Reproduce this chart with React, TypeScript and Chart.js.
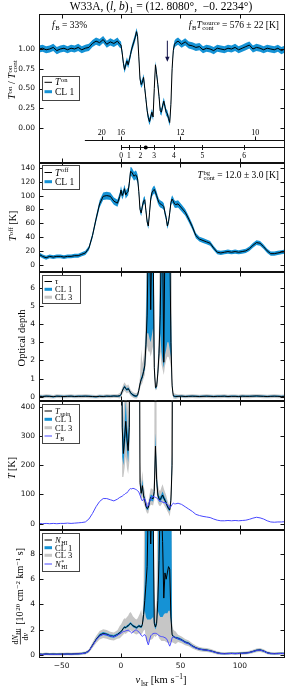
import React, { useEffect, useRef } from "react";
import { Chart, registerables } from "chart.js";

Chart.register(...registerables);

// ---------------- data ----------------
// velocity channels [km/s]: coarse outside the absorption window, 1 km/s inside it
const velocity = [
  -69, -66, -63, -60, -57, -54, -51, -48, -45, -42, -39, -36, -33, -30, -27, -24, -21, -18, -15, -12, -9, -6, -3,
  -1, 0, 1, 2, 3, 4, 5, 6, 7, 8, 9, 10, 11, 12, 13, 14, 15, 16, 17, 18, 19, 20, 21, 22, 23,
  24, 25, 26, 27, 28, 29, 30, 31, 32, 33, 34, 35, 36, 37, 38, 39, 40, 41, 42, 43, 44, 45, 46,
  48, 51, 54, 57, 60, 63, 66, 69, 72, 75, 78, 81, 84, 87, 90, 93, 96, 99, 102, 105, 108, 111, 114, 117, 120, 123, 126, 129, 132, 135, 138,
];
const LINE_START = 23; // index of -1 km/s (first channel of the window arrays)
const LINE_LEN = 48;
const velocityLine = velocity.slice(LINE_START, LINE_START + LINE_LEN);

const tOn = [
  1.0, 1.01, 0.99, 1.0, 1.02, 0.98, 1.0, 1.01, 0.99, 1.01, 1.0, 1.02, 0.99, 1.01, 1.02, 1.07, 1.1, 1.08, 1.12, 1.06, 1.09, 1.07, 1.1,
  1.06, 1.05, 0.95, 0.82, 0.74, 0.8, 0.85, 0.8, 0.86, 0.93, 1.0, 1.05, 1.1, 1.15, 1.22, 1.16, 0.9, 0.62, 0.55, 0.58, 0.64, 0.5, 0.36, 0.22, 0.13,
  0.08, 0.14, 0.2, 0.14, 0.5, 0.8, 0.68, 0.55, 0.4, 0.22, 0.2, 0.28, 0.34, 0.27, 0.2, 0.18, 0.12, 0.07, 0.3, 0.75, 0.98, 1.06, 1.08,
  1.1, 1.06, 1.09, 1.05, 1.04, 1.02, 1.03, 0.99, 1.01, 1.0, 0.98, 1.01, 1.0, 0.99, 1.01, 1.0, 1.02, 0.99, 1.01, 1.03, 1.05, 1.0, 1.02, 1.01, 0.99, 1.01, 1.0, 0.99, 1.01, 0.98, 1.0,
];
const tOnErr = 0.045;

const tOff = [
  15, 12, 10, 12, 11, 12, 12, 11, 12, 12, 13, 13, 15, 17, 24, 42, 66, 88, 99, 100, 99, 92, 89,
  99, 108, 100, 104, 110, 101, 104, 106, 118, 135, 134, 131, 128, 130, 129, 124, 106, 80, 75, 85, 92, 94, 78, 62, 56,
  75, 95, 104, 107, 109, 105, 100, 94, 90, 88, 87, 86, 84, 75, 68, 56, 62, 75, 90, 95, 92, 88, 87,
  88, 82, 76, 66, 55, 42, 37, 35, 33, 31, 24, 18, 17, 18, 19, 18, 19, 18, 19, 20, 23, 28, 32, 31, 26, 20, 16, 16, 17, 18, 19,
];
const tOffErrAbs = 2.5;
const tOffErrRel = 0.03;

const tau = [
  0.02, 0.01, 0.03, 0.02, 0.0, 0.03, 0.02, 0.01, 0.02, 0.03, 0.01, 0.02, 0.02, 0.03, 0.02, 0.01, 0.0, 0.02, 0.01, 0.03, 0.02, 0.04, 0.03,
  0.05, 0.12, 0.3, 0.45, 0.55, 0.45, 0.38, 0.45, 0.35, 0.22, 0.15, 0.1, 0.06, 0.04, 0.03, 0.1, 0.35, 0.7, 0.95, 1.1, 1.4, 1.7, 2.9, 4.5, 9,
  9, 4.8, 9, 9, 1.6, 0.5, 0.55, 1.3, 2.4, 4.5, 9, 9, 1.9, 9, 9, 9, 9, 9, 3.0, 0.6, 0.05, 0.02, 0.01,
  0.02, 0.03, 0.01, 0.02, 0.03, 0.02, 0.01, 0.02, 0.03, 0.02, 0.01, 0.02, 0.02, 0.03, 0.01, 0.02, 0.02, 0.01, 0.03, 0.02, 0.02, 0.03, 0.04, 0.03, 0.02, 0.01, 0.02, 0.03, 0.02, 0.01, 0.02,
];
// confidence limits inside the window (-1 .. 46 km/s)
const tauCl1Lo = [0.0, 0.07, 0.24, 0.38, 0.48, 0.38, 0.31, 0.38, 0.28, 0.16, 0.09, 0.04, 0.0, -0.02, -0.03, 0.04, 0.28, 0.6, 0.85, 0.98, 1.25, 1.5, 2.5, 3.5, 3.5, 3.2, 3.0, 3.4, 3.8, 1.4, 0.42, 0.47, 1.15, 2.1, 3.5, 2.5, 2.0, 1.6, 2.3, 2.6, 3.0, 3.0, 2.6, 2.2, 0.5, 0.0, -0.03, -0.04];
const tauCl1Hi = [0.1, 0.17, 0.36, 0.52, 0.63, 0.52, 0.45, 0.52, 0.42, 0.28, 0.21, 0.16, 0.12, 0.1, 0.09, 0.16, 0.42, 0.8, 1.1, 1.25, 1.6, 2.0, 3.6, 8, 20, 20, 20, 20, 20, 2.0, 0.58, 0.64, 1.5, 2.9, 7, 20, 20, 20, 20, 20, 20, 20, 20, 5, 0.75, 0.1, 0.07, 0.06];
const tauCl3Lo = [-0.1, -0.03, 0.12, 0.25, 0.33, 0.25, 0.18, 0.25, 0.16, 0.05, 0.0, -0.05, -0.08, -0.1, -0.11, -0.05, 0.15, 0.45, 0.65, 0.75, 1.0, 1.2, 2.0, 2.8, 2.5, 2.5, 2.2, 2.5, 2.8, 1.1, 0.35, 0.38, 0.95, 1.6, 2.5, 1.8, 1.5, 1.2, 1.7, 2.0, 2.2, 2.2, 2.0, 1.6, 0.4, -0.1, -0.12, -0.13];
const tauCl3Hi = [0.2, 0.3, 0.5, 0.68, 0.8, 0.68, 0.6, 0.68, 0.56, 0.4, 0.32, 0.26, 0.22, 0.2, 0.19, 0.28, 0.6, 1.1, 2.6, 1.8, 2.2, 2.8, 5, 20, 20, 20, 20, 20, 20, 2.8, 0.75, 0.8, 2.0, 4, 20, 20, 20, 20, 20, 20, 20, 20, 20, 20, 1.0, 0.2, 0.17, 0.16];
const tauCl1Err = 0.04;
const tauCl3Err = 0.1;

// spin temperature, only inside the window
const tSpin = [null, 1500, 330, 240, 290, 350, 290, 250, 330, 1500, null, null, null, null, null, null, 1500, 140, 104, 130, 95, 81, 60, 52, 55, 75, 90, 88, 85, 110, 265, 150, 98, 85, 82, 90, 98, 88, 80, 72, 60, 52, 47, 80, 200, 1500, null, null];
const tSpinCl1Lo = [null, 1000, 230, 200, 250, 300, 250, 210, 280, 1000, null, null, null, null, null, null, 1000, 125, 95, 115, 86, 73, 54, 46, 49, 67, 80, 78, 76, 98, 225, 130, 88, 76, 73, 80, 88, 80, 72, 64, 53, 46, 42, 70, 170, 1000, null, null];
const tSpinCl1Hi = [null, 3000, 480, 290, 340, 420, 340, 300, 400, 3000, null, null, null, null, null, null, 3000, 160, 115, 150, 106, 90, 67, 58, 62, 84, 100, 98, 95, 125, 310, 175, 110, 95, 92, 100, 110, 98, 89, 81, 67, 58, 53, 92, 250, 3000, null, null];
const tSpinCl3Lo = [null, 600, 160, 160, 190, 230, 190, 170, 210, 600, null, null, null, null, null, null, 600, 100, 78, 95, 70, 60, 44, 35, 36, 55, 66, 64, 62, 80, 180, 105, 72, 62, 60, 66, 72, 65, 58, 52, 43, 36, 25, 55, 140, 600, null, null];
const tSpinCl3Hi = [null, 5000, 700, 360, 440, 560, 440, 380, 520, 5000, null, null, null, null, null, null, 5000, 210, 140, 180, 130, 110, 80, 70, 75, 100, 120, 120, 115, 170, 2000, 240, 135, 115, 112, 125, 135, 120, 108, 98, 82, 70, 64, 130, 700, 5000, null, null];

const tB = [
  1, 0, 1, 0, 1, 0, 1, 1, 2, 1, 2, 3, 4, 6, 16, 35, 58, 76, 86, 86, 82, 78, 84,
  90, 92, 94, 98, 100, 104, 106, 110, 117, 120, 119, 121, 120, 118, 116, 113, 108, 98, 86, 78, 84, 86, 72, 58, 62,
  76, 86, 92, 94, 92, 90, 88, 84, 80, 78, 76, 74, 72, 72, 70, 66, 60, 54, 58, 66, 70, 68, 68,
  70, 66, 58, 50, 42, 32, 28, 25, 23, 21, 16, 12, 10, 10, 11, 10, 11, 10, 11, 12, 15, 19, 22, 20, 16, 10, 6, 5, 6, 6, 7,
];

const nHI = [
  0.05, 0.03, 0.06, 0.04, 0.05, 0.04, 0.05, 0.05, 0.06, 0.05, 0.07, 0.08, 0.1, 0.14, 0.3, 0.75, 1.2, 1.55, 1.68, 1.62, 1.5, 1.45, 1.6,
  1.75, 1.85, 1.95, 2.1, 2.2, 2.15, 2.25, 2.3, 2.4, 2.5, 2.4, 2.3, 2.25, 2.2, 2.15, 2.2, 2.3, 2.25, 2.2, 2.4, 3.2, 4.3, 5.6, 7.0, 12,
  12, 8.8, 12, 12, 2.5, 2.2, 2.5, 4.3, 7.5, 12, 12, 9.0, 4.5, 6.5, 6.0, 6.5, 7.0, 6.8, 3.0, 1.6, 1.45, 1.4, 1.35,
  1.3, 1.18, 1.0, 0.9, 0.7, 0.55, 0.45, 0.4, 0.37, 0.32, 0.24, 0.15, 0.1, 0.09, 0.1, 0.11, 0.1, 0.11, 0.12, 0.14, 0.18, 0.26, 0.35, 0.38, 0.3, 0.16, 0.1, 0.09, 0.1, 0.11, 0.1,
];
const nHIstar = [
  0.04, 0.02, 0.05, 0.03, 0.04, 0.03, 0.04, 0.05, 0.05, 0.04, 0.06, 0.07, 0.09, 0.13, 0.29, 0.72, 1.15, 1.5, 1.62, 1.58, 1.48, 1.42, 1.56,
  1.65, 1.72, 1.78, 1.85, 1.85, 1.9, 1.92, 1.96, 1.9, 1.8, 1.72, 1.8, 1.88, 1.95, 1.96, 1.9, 1.8, 1.7, 1.55, 1.45, 1.55, 1.6, 1.45, 1.05, 0.78,
  1.15, 1.5, 1.6, 1.68, 1.7, 1.7, 1.68, 1.6, 1.52, 1.47, 1.44, 1.43, 1.4, 1.35, 1.3, 1.15, 0.9, 0.68, 0.95, 1.35, 1.42, 1.4, 1.35,
  1.28, 1.16, 0.98, 0.88, 0.68, 0.53, 0.44, 0.39, 0.36, 0.31, 0.23, 0.14, 0.09, 0.08, 0.09, 0.1, 0.09, 0.1, 0.11, 0.13, 0.17, 0.25, 0.34, 0.37, 0.29, 0.15, 0.09, 0.08, 0.09, 0.1, 0.09,
];
const nHICl1Lo = [1.68, 1.78, 1.87, 2.02, 2.11, 2.06, 2.16, 2.2, 2.3, 2.4, 2.3, 2.2, 2.15, 2.1, 2.05, 2.1, 2.2, 2.15, 2.1, 2.25, 2.8, 3.5, 3.0, 2.8, 2.8, 2.8, 2.8, 2.9, 3.0, 2.3, 2.0, 2.3, 3.5, 3.2, 3.0, 3.0, 3.0, 3.2, 3.3, 3.3, 3.3, 3.5, 3.5, 2.6, 1.5, 1.38, 1.33, 1.28];
const nHICl1Hi = [1.82, 1.93, 2.03, 2.18, 2.29, 2.24, 2.34, 2.4, 2.5, 2.6, 2.5, 2.4, 2.35, 2.3, 2.25, 2.3, 2.4, 2.35, 2.3, 2.6, 3.8, 6.0, 20, 20, 20, 20, 20, 20, 20, 3.0, 2.4, 2.8, 5.5, 20, 20, 20, 20, 20, 20, 20, 20, 20, 20, 20, 1.7, 1.52, 1.47, 1.42];
const nHICl3Lo = [1.3, 1.4, 1.5, 1.6, 1.7, 1.65, 1.75, 1.8, 1.85, 1.95, 1.85, 1.75, 1.7, 1.65, 1.6, 1.65, 1.7, 1.65, 1.6, 1.7, 1.9, 2.0, 1.2, 1.0, 1.0, 1.1, 1.2, 1.2, 1.3, 1.5, 1.4, 1.5, 1.6, 1.3, 1.2, 1.1, 1.1, 1.1, 1.1, 1.0, 1.0, 0.9, 0.9, 1.0, 1.0, 0.95, 0.9, 0.85];
const nHICl3Hi = [2.3, 2.4, 2.6, 2.8, 2.9, 2.85, 3.0, 3.1, 3.3, 3.4, 3.25, 3.05, 2.95, 2.85, 2.8, 2.9, 3.1, 3.3, 3.6, 3.0, 5, 20, 20, 20, 20, 20, 20, 20, 20, 5, 3.5, 4.5, 20, 20, 20, 20, 20, 20, 20, 20, 20, 20, 20, 20, 2.5, 2.0, 1.9, 1.85];
const nHICl1Abs = 0.05, nHICl1Rel = 0.04;
const nHICl3Abs = 0.1, nHICl3Rel = 0.15;

// tick labels
const velTicks = [-50, 0, 50, 100];
const onTicks = [0, 0.25, 0.5, 0.75, 1.0];
const offTicks = [0, 20, 40, 60, 80, 100, 120, 140];
const tauTicks = [0, 1, 2, 3, 4, 5, 6];
const tempTicks = [0, 100, 200, 300, 400];
const colTicks = [0, 2, 4, 6, 8];

// kinematic distance scales [kpc] and their velocities
const farDistLabels = ["20", "16", "12", "10"];
const farDistVel = [-16.3, 0, 50, 113];
const nearDistLabels = ["0", "1", "2", "3", "4", "5", "6"];
const nearDistVel = [0, 6.7, 16.3, 27.8, 44.4, 68.5, 103.5];
const sourceVel = 20.8;
const arrowVel = 39.0;

// ---------------- style ----------------
const PAGE_W = 287, PAGE_H = 688;
const AX_L = 39, AX_R = 285;
const V_MIN = -69, V_MAX = 138;
const SERIF = "'Liberation Serif', 'DejaVu Serif', serif";
const SANS = "'DejaVu Sans', sans-serif";
const BLUE = "#1592d5";
const GRAY = "#c6c6c6";
const LINE_BLUE = "#4848ff";
const INK = "#000";

type Seg = { t?: string; it?: boolean; sup?: string; sub?: string; frac?: [Seg[], Seg[]] };
const SCRIPT = 0.7;
const fontOf = (size: number, it = false) => `${it ? "italic " : ""}${size}px ${SERIF}`;

function segWidth(ctx: CanvasRenderingContext2D, s: Seg, size: number): number {
  if (s.frac) {
    const fs = size * 0.8;
    return Math.max(segsWidth(ctx, s.frac[0], fs), segsWidth(ctx, s.frac[1], fs)) + size * 0.3;
  }
  ctx.font = fontOf(size, s.it);
  const base = s.t ? ctx.measureText(s.t).width : 0;
  ctx.font = fontOf(size * SCRIPT);
  const sw = Math.max(s.sup ? ctx.measureText(s.sup).width : 0, s.sub ? ctx.measureText(s.sub).width : 0);
  return base + (sw ? sw + size * 0.06 : 0);
}
function segsWidth(ctx: CanvasRenderingContext2D, segs: Seg[], size: number) {
  return segs.reduce((w, s) => w + segWidth(ctx, s, size), 0);
}
function drawSegs(ctx: CanvasRenderingContext2D, segs: Seg[], x: number, y: number, size: number) {
  for (const s of segs) {
    if (s.frac) {
      const fs = size * 0.8;
      const a = segsWidth(ctx, s.frac[0], fs), b = segsWidth(ctx, s.frac[1], fs);
      const w = Math.max(a, b), pad = size * 0.15, mid = y - size * 0.3;
      drawSegs(ctx, s.frac[0], x + pad + (w - a) / 2, mid - size * 0.2, fs);
      drawSegs(ctx, s.frac[1], x + pad + (w - b) / 2, mid + size * 0.72, fs);
      ctx.fillRect(x + pad, mid - 0.35, w, 0.7);
      x += w + 2 * pad;
      continue;
    }
    ctx.font = fontOf(size, s.it);
    if (s.t) {
      ctx.fillText(s.t, x, y);
      x += ctx.measureText(s.t).width;
    }
    if (s.sup || s.sub) {
      const ss = size * SCRIPT;
      ctx.font = fontOf(ss);
      const xs = x + size * 0.06;
      let sw = 0;
      if (s.sup) { ctx.fillText(s.sup, xs, y - size * 0.38); sw = ctx.measureText(s.sup).width; }
      if (s.sub) { ctx.fillText(s.sub, xs, y + size * 0.2); sw = Math.max(sw, ctx.measureText(s.sub).width); }
      x = xs + sw;
    }
  }
}
function rich(ctx: CanvasRenderingContext2D, segs: Seg[], x: number, y: number, size: number,
  align: "left" | "center" | "right" = "left", rotate = false, color = INK) {
  ctx.save();
  ctx.fillStyle = color;
  ctx.textAlign = "left";
  ctx.textBaseline = "alphabetic";
  const w = segsWidth(ctx, segs, size);
  ctx.translate(x, y);
  if (rotate) ctx.rotate(-Math.PI / 2);
  const x0 = align === "left" ? 0 : align === "center" ? -w / 2 : -w;
  drawSegs(ctx, segs, x0, size * 0.33, size);
  ctx.restore();
}

type LegendRow = { y: number; segs: Seg[]; color: string; width: number };
function legend(ctx: CanvasRenderingContext2D, box: { x: number; y: number; w: number; h: number }, rows: LegendRow[], size: number) {
  ctx.save();
  ctx.fillStyle = "#fff";
  ctx.fillRect(box.x, box.y, box.w, box.h);
  ctx.strokeStyle = "#444";
  ctx.lineWidth = 1;
  ctx.strokeRect(box.x + 0.5, box.y + 0.5, box.w, box.h);
  for (const r of rows) {
    ctx.strokeStyle = r.color;
    ctx.lineWidth = r.width;
    ctx.beginPath();
    ctx.moveTo(box.x + 2.5, r.y);
    ctx.lineTo(box.x + 10, r.y);
    ctx.stroke();
    rich(ctx, r.segs, box.x + 13, r.y, size, "left");
  }
  ctx.restore();
}

function frame(chart: any, yTicks: number[]) {
  const { ctx, chartArea: a, scales } = chart;
  ctx.save();
  ctx.strokeStyle = "#111";
  ctx.lineWidth = 1;
  const L = Math.round(a.left) + 0.5, R = Math.round(a.right) - 0.5;
  const T = Math.round(a.top) + 0.5, B = Math.round(a.bottom) - 0.5;
  ctx.strokeRect(L, T, R - L, B - T);
  ctx.beginPath();
  for (const v of yTicks) {
    const y = Math.round(scales.y.getPixelForValue(v)) + 0.5;
    ctx.moveTo(L, y); ctx.lineTo(L + 4, y);
    ctx.moveTo(R, y); ctx.lineTo(R - 4, y);
  }
  for (const v of velTicks) {
    const x = Math.round(scales.x.getPixelForValue(v)) + 0.5;
    ctx.moveTo(x, T); ctx.lineTo(x, T + 4);
    ctx.moveTo(x, B); ctx.lineTo(x, B - 4);
  }
  ctx.stroke();
  ctx.restore();
}

// ---------------- dataset helpers ----------------
const pts = (xs: number[], ys: (number | null)[]) => xs.map((x, i) => ({ x, y: ys[i] }));

function bounds(center: number[], winLo: number[] | null, winHi: number[] | null, abs: number, rel: number) {
  const pick = (arr: number[] | null, i: number) => {
    const j = i - LINE_START;
    return arr && j >= 0 && j < arr.length ? arr[j] : undefined;
  };
  const lo = center.map((c, i) => pick(winLo, i) ?? c - (abs + rel * Math.abs(c)));
  const hi = center.map((c, i) => pick(winHi, i) ?? c + (abs + rel * Math.abs(c)));
  return [lo, hi];
}
function bandSets(xs: number[], lo: (number | null)[], hi: (number | null)[], color: string, order: number) {
  const base = { pointRadius: 0, borderWidth: 0, borderColor: "rgba(0,0,0,0)", tension: 0, order, spanGaps: false };
  return [
    { ...base, data: pts(xs, lo), fill: false },
    { ...base, data: pts(xs, hi), fill: "-1", backgroundColor: color },
  ];
}
function lineSet(xs: number[], ys: (number | null)[], color: string, width: number, order: number) {
  return { data: pts(xs, ys), borderColor: color, borderWidth: width, pointRadius: 0, fill: false, tension: 0, order, spanGaps: false };
}
const minus = (v: number) => (v < 0 ? "\u2212" + Math.abs(v) : String(v));

// ---------------- panels ----------------
type PanelSpec = {
  key: string; top: number; bottom: number; yMin: number; yMax: number; yTicks: number[];
  fmt: (v: number) => string; showX?: boolean; datasets: () => any[]; draw: (ctx: CanvasRenderingContext2D, chart: any) => void;
};

const panels: PanelSpec[] = [
  {
    key: "on", top: 14, bottom: 163, yMin: -0.443, yMax: 1.443, yTicks: onTicks, fmt: (v) => v.toFixed(2),
    datasets: () => {
      const [lo, hi] = bounds(tOn, null, null, tOnErr, 0);
      return [...bandSets(velocity, lo, hi, BLUE, 5), lineSet(velocity, tOn, INK, 1, 3)];
    },
    draw: (ctx, chart) => {
      const xs = chart.scales.x, ys = chart.scales.y;
      rich(ctx, [{ t: "W33A, (" }, { t: "l", it: true }, { t: ", " }, { t: "b", it: true }, { t: ")", sub: "1" },
        { t: " = (12. 8080\u00b0,  \u22120. 2234\u00b0)" }], 161, 6.5, 11.5, "center");
      rich(ctx, [{ t: "f", it: true, sub: "B" }, { t: " = 33%" }], 52, 25, 9.5, "left");
      rich(ctx, [{ t: "f", it: true, sub: "B" }, { t: "T", it: true, sup: "source", sub: "cont" }, { t: " = 576 \u00b1 22 [K]" }], 279, 25, 9.5, "right");
      // arrow
      const ax = xs.getPixelForValue(arrowVel);
      const ay1 = ys.getPixelForValue(1.105), ay2 = ys.getPixelForValue(0.84);
      ctx.save();
      ctx.strokeStyle = "#14144a"; ctx.fillStyle = "#14144a"; ctx.lineWidth = 1;
      ctx.beginPath(); ctx.moveTo(ax, ay1); ctx.lineTo(ax, ay2 - 4); ctx.stroke();
      ctx.beginPath(); ctx.moveTo(ax - 2.2, ay2 - 5); ctx.lineTo(ax + 2.2, ay2 - 5); ctx.lineTo(ax, ay2); ctx.closePath(); ctx.fill();
      // distance axes
      ctx.strokeStyle = "#111"; ctx.fillStyle = INK;
      const farY = Math.round(ys.getPixelForValue(-0.155)) + 0.5;
      const nearY = Math.round(ys.getPixelForValue(-0.245)) + 0.5;
      ctx.beginPath();
      ctx.moveTo(xs.getPixelForValue(-30.4), farY); ctx.lineTo(chart.chartArea.right, farY);
      farDistVel.forEach((v) => { const x = Math.round(xs.getPixelForValue(v)) + 0.5; ctx.moveTo(x, farY); ctx.lineTo(x, farY - 4); });
      ctx.moveTo(xs.getPixelForValue(0), nearY); ctx.lineTo(chart.chartArea.right, nearY);
      nearDistVel.forEach((v) => { const x = Math.round(xs.getPixelForValue(v)) + 0.5; ctx.moveTo(x, nearY - 2.5); ctx.lineTo(x, nearY + 2.5); });
      ctx.stroke();
      ctx.beginPath(); ctx.arc(xs.getPixelForValue(sourceVel), nearY, 2, 0, Math.PI * 2); ctx.fill();
      ctx.restore();
      farDistLabels.forEach((l, i) => rich(ctx, [{ t: l }], xs.getPixelForValue(farDistVel[i]), farY - 8.5, 8, "center"));
      nearDistLabels.forEach((l, i) => rich(ctx, [{ t: l }], xs.getPixelForValue(nearDistVel[i]), nearY + 7.7, 7.5, "center"));
      legend(ctx, { x: 42, y: 76, w: 37, h: 24 }, [
        { y: 82.3, segs: [{ t: "T", it: true, sup: "on" }], color: INK, width: 1 },
        { y: 91.7, segs: [{ t: "CL 1" }], color: BLUE, width: 3 },
      ], 9.5);
      rich(ctx, [{ t: "T", it: true, sup: "on" }, { t: " / " }, { t: "T", it: true, sup: "on", sub: "cont" }], 12, 80, 10, "center", true);
    },
  },
  {
    key: "off", top: 163, bottom: 272, yMin: -10.6, yMax: 147.2, yTicks: offTicks, fmt: (v) => String(v),
    datasets: () => {
      const [lo, hi] = bounds(tOff, null, null, tOffErrAbs, tOffErrRel);
      return [...bandSets(velocity, lo, hi, BLUE, 5), lineSet(velocity, tOff, INK, 1, 3)];
    },
    draw: (ctx) => {
      rich(ctx, [{ t: "T", it: true, sup: "bg", sub: "cont" }, { t: " = 12.0 \u00b1 3.0 [K]" }], 279, 175, 9.5, "right");
      legend(ctx, { x: 42, y: 165, w: 37, h: 24 }, [
        { y: 172.5, segs: [{ t: "T", it: true, sup: "off" }], color: INK, width: 1 },
        { y: 181.7, segs: [{ t: "CL 1" }], color: BLUE, width: 3 },
      ], 9.5);
      rich(ctx, [{ t: "T", it: true, sup: "off" }, { t: " [K]" }], 13, 226, 10, "center", true);
    },
  },
  {
    key: "tau", top: 272, bottom: 400.5, yMin: -0.21, yMax: 6.88, yTicks: tauTicks, fmt: (v) => String(v),
    datasets: () => {
      const [l3, h3] = bounds(tau, tauCl3Lo, tauCl3Hi, tauCl3Err, 0);
      const [l1, h1] = bounds(tau, tauCl1Lo, tauCl1Hi, tauCl1Err, 0);
      return [...bandSets(velocity, l3, h3, GRAY, 7), ...bandSets(velocity, l1, h1, BLUE, 5), lineSet(velocity, tau, INK, 1, 3)];
    },
    draw: (ctx) => {
      legend(ctx, { x: 42, y: 275, w: 38, h: 28 }, [
        { y: 281.5, segs: [{ t: "\u03c4", it: true }], color: INK, width: 1 },
        { y: 289.3, segs: [{ t: "CL 1" }], color: BLUE, width: 3 },
        { y: 297.2, segs: [{ t: "CL 3" }], color: GRAY, width: 3 },
      ], 8.5);
      rich(ctx, [{ t: "Optical depth" }], 21.5, 338, 10.5, "center", true);
    },
  },
  {
    key: "spin", top: 400.5, bottom: 530, yMin: -21.5, yMax: 421.2, yTicks: tempTicks, fmt: (v) => String(v),
    datasets: () => [
      ...bandSets(velocityLine, tSpinCl3Lo, tSpinCl3Hi, GRAY, 7),
      ...bandSets(velocityLine, tSpinCl1Lo, tSpinCl1Hi, BLUE, 5),
      lineSet(velocityLine, tSpin, INK, 1, 3),
      lineSet(velocity, tB, LINE_BLUE, 1, 1),
    ],
    draw: (ctx) => {
      legend(ctx, { x: 42, y: 404, w: 37, h: 39 }, [
        { y: 411, segs: [{ t: "T", it: true, sub: "spin" }], color: INK, width: 1 },
        { y: 419.3, segs: [{ t: "CL 1" }], color: BLUE, width: 3 },
        { y: 427.7, segs: [{ t: "CL 3" }], color: GRAY, width: 3 },
        { y: 436, segs: [{ t: "T", it: true, sub: "B" }], color: LINE_BLUE, width: 1 },
      ], 8.5);
      rich(ctx, [{ t: "T", it: true }, { t: " [K]" }], 12, 468, 10, "center", true);
    },
  },
  {
    key: "col", top: 530, bottom: 658, yMin: -0.26, yMax: 9.91, yTicks: colTicks, fmt: (v) => String(v), showX: true,
    datasets: () => {
      const [l3, h3] = bounds(nHI, nHICl3Lo, nHICl3Hi, nHICl3Abs, nHICl3Rel);
      const [l1, h1] = bounds(nHI, nHICl1Lo, nHICl1Hi, nHICl1Abs, nHICl1Rel);
      return [...bandSets(velocity, l3, h3, GRAY, 7), ...bandSets(velocity, l1, h1, BLUE, 5),
        lineSet(velocity, nHI, INK, 1, 3), lineSet(velocity, nHIstar, LINE_BLUE, 1, 1)];
    },
    draw: (ctx) => {
      legend(ctx, { x: 42, y: 533, w: 37, h: 38 }, [
        { y: 540, segs: [{ t: "N", it: true, sub: "HI" }], color: INK, width: 1 },
        { y: 547.7, segs: [{ t: "CL 1" }], color: BLUE, width: 3 },
        { y: 555.3, segs: [{ t: "CL 3" }], color: GRAY, width: 3 },
        { y: 564, segs: [{ t: "N", it: true, sup: "*", sub: "HI" }], color: LINE_BLUE, width: 1 },
      ], 8.5);
      rich(ctx, [
        { frac: [[{ t: "d" }, { t: "N", it: true, sub: "HI" }], [{ t: "d" }, { t: "v", it: true }]] },
        { t: " [10", sup: "20" }, { t: " cm", sup: "\u22122" }, { t: " km", sup: "\u22121" }, { t: " s]" },
      ], 20, 597, 10, "center", true);
      rich(ctx, [{ t: "v", it: true, sub: "lsr" }, { t: " [km s", sup: "\u22121" }, { t: "]" }], 161, 680, 10.5, "center");
    },
  },
];

function makeConfig(p: PanelSpec): any {
  const xH = p.showX ? 16 : 0;
  const tickFont = { family: SANS, size: 7.5 };
  return {
    type: "line",
    data: { datasets: p.datasets() },
    options: {
      responsive: false,
      maintainAspectRatio: false,
      animation: false,
      devicePixelRatio: 1,
      events: [],
      layout: { padding: { top: p.top, bottom: PAGE_H - p.bottom - xH, left: 0, right: PAGE_W - AX_R } },
      plugins: { legend: { display: false }, tooltip: { enabled: false }, title: { display: false } },
      scales: {
        x: {
          type: "linear", min: V_MIN, max: V_MAX, display: !!p.showX,
          afterBuildTicks: (s: any) => { s.ticks = velTicks.map((v) => ({ value: v })); },
          afterFit: (s: any) => { s.height = xH; },
          grid: { display: false, drawTicks: false }, border: { display: false },
          ticks: { font: tickFont, color: "#111", padding: 4, maxRotation: 0, minRotation: 0, autoSkip: false, callback: (v: number) => minus(v) },
        },
        y: {
          type: "linear", min: p.yMin, max: p.yMax,
          afterBuildTicks: (s: any) => { s.ticks = p.yTicks.map((v) => ({ value: v })); },
          afterFit: (s: any) => { s.width = AX_L; },
          grid: { display: false, drawTicks: false }, border: { display: false },
          ticks: { font: tickFont, color: "#111", padding: 4, autoSkip: false, callback: (v: number) => p.fmt(v) },
        },
      },
    },
    plugins: [{ id: "deco-" + p.key, afterDraw: (chart: any) => { frame(chart, p.yTicks); p.draw(chart.ctx, chart); } }],
  };
}

function Panel({ spec }: { spec: PanelSpec }) {
  const ref = useRef<HTMLCanvasElement>(null);
  useEffect(() => {
    const chart = new Chart(ref.current as HTMLCanvasElement, makeConfig(spec));
    return () => chart.destroy();
  }, [spec]);
  return (
    <canvas ref={ref} width={PAGE_W} height={PAGE_H}
      style={{ position: "absolute", left: 0, top: 0, width: PAGE_W, height: PAGE_H }} />
  );
}

export default function App() {
  return (
    <div style={{ position: "absolute", left: 0, top: 0, width: PAGE_W, height: PAGE_H, background: "#fff", overflow: "hidden" }}>
      {panels.map((p) => <Panel key={p.key} spec={p} />)}
    </div>
  );
}
